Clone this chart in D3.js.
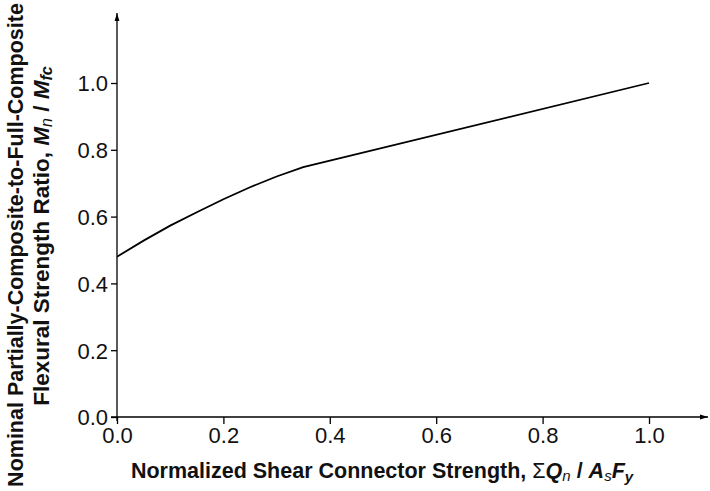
<!DOCTYPE html>
<html><head><meta charset="utf-8">
<script src="https://cdn.jsdelivr.net/npm/d3@7"></script>
<style>body{margin:0;background:#fff}svg{display:block}</style>
</head><body>
<script>
const xValues = [0.0, 0.05, 0.1, 0.15, 0.2, 0.25, 0.3, 0.35, 1.0];
const yValues = [0.48, 0.528, 0.573, 0.613, 0.652, 0.688, 0.72, 0.748, 1.0];
const xTicks = [0.0, 0.2, 0.4, 0.6, 0.8, 1.0];
const yTicks = [0.0, 0.2, 0.4, 0.6, 0.8, 1.0];

const W = 710, H = 491;
const svg = d3.select("body").append("svg").attr("width", W).attr("height", H);
const font = "Liberation Sans, Arial, sans-serif";
const TF = 22, TT = 21.5, SUB = 15;

const x = d3.scaleLinear().domain([0, 1]).range([117, 649]);
const y = d3.scaleLinear().domain([0, 1]).range([417, 83]);

// axes
const xAxis = svg.append("g").attr("transform", `translate(0,${y(0)})`)
  .call(d3.axisBottom(x).tickValues(xTicks).tickFormat(d3.format(".1f")).tickSize(7).tickPadding(3).tickSizeOuter(0));
const yAxis = svg.append("g").attr("transform", `translate(${x(0)},0)`)
  .call(d3.axisLeft(y).tickValues(yTicks).tickFormat(d3.format(".1f")).tickSize(6).tickPadding(3).tickSizeOuter(0));
[xAxis, yAxis].forEach(g => {
  g.select(".domain").remove();
  g.selectAll("line").attr("stroke", "#000").attr("stroke-width", 1.3);
  g.selectAll("text").attr("font-family", font).attr("font-size", TF).attr("fill", "#111");
});
yAxis.selectAll("text").attr("dy", "0.36em");

// axis lines with arrows
svg.append("defs").append("marker").attr("id", "arr")
  .attr("viewBox", "0 0 10 10").attr("refX", 10).attr("refY", 5)
  .attr("markerWidth", 8).attr("markerHeight", 8).attr("markerUnits", "userSpaceOnUse")
  .attr("orient", "auto")
  .append("path").attr("d", "M0,2 L10,5 L0,8 Z").attr("fill", "#000");
svg.append("line").attr("x1", x(0) - 6).attr("x2", 708).attr("y1", y(0)).attr("y2", y(0))
  .attr("stroke", "#000").attr("stroke-width", 1.3).attr("marker-end", "url(#arr)");
svg.append("line").attr("x1", x(0)).attr("x2", x(0)).attr("y1", y(0) + 4).attr("y2", 13)
  .attr("stroke", "#000").attr("stroke-width", 1.3).attr("marker-end", "url(#arr)");

// curve
const pts = xValues.map((v, i) => [v, yValues[i]]);
svg.append("path").datum(pts)
  .attr("d", d3.line().x(d => x(d[0])).y(d => y(d[1])))
  .attr("fill", "none").attr("stroke", "#000").attr("stroke-width", 1.8);

// x title
const xt = svg.append("text").attr("x", 382).attr("y", 478).attr("text-anchor", "middle")
  .attr("font-family", font).attr("font-size", TT).attr("font-weight", "bold").attr("fill", "#111");
xt.append("tspan").text("Normalized Shear Connector Strength, ");
xt.append("tspan").attr("font-weight", "normal").text("\u03A3");
xt.append("tspan").attr("font-style", "italic").text("Q");
xt.append("tspan").attr("font-style", "italic").attr("font-weight", "normal").attr("font-size", SUB).attr("dy", 3).text("n");
xt.append("tspan").attr("dy", -3).text(" / ");
xt.append("tspan").attr("font-style", "italic").text("A");
xt.append("tspan").attr("font-style", "italic").attr("font-weight", "normal").attr("font-size", SUB).attr("dy", 3).text("s");
xt.append("tspan").attr("font-style", "italic").attr("dy", -3).text("F");
xt.append("tspan").attr("font-style", "italic").attr("font-size", SUB).attr("dy", 4).text("y");

// y title
svg.append("text").attr("transform", "translate(23,245) rotate(-90)").attr("text-anchor", "middle")
  .attr("font-family", font).attr("font-size", TT).attr("font-weight", "bold").attr("fill", "#111")
  .text("Nominal Partially-Composite-to-Full-Composite");
const yt2 = svg.append("text").attr("transform", "translate(49,236) rotate(-90)").attr("text-anchor", "middle")
  .attr("font-family", font).attr("font-size", 22.5).attr("font-weight", "bold").attr("fill", "#111");
yt2.append("tspan").text("Flexural Strength Ratio, ");
yt2.append("tspan").attr("font-style", "italic").text("M");
yt2.append("tspan").attr("font-style", "italic").attr("font-weight", "normal").attr("font-size", SUB + 1).attr("dy", 3).text("n");
yt2.append("tspan").attr("dy", -3).text(" / ");
yt2.append("tspan").attr("font-style", "italic").text("M");
yt2.append("tspan").attr("font-style", "italic").attr("font-size", SUB + 1).attr("dy", 3).text("fc");
</script>
</body></html>
